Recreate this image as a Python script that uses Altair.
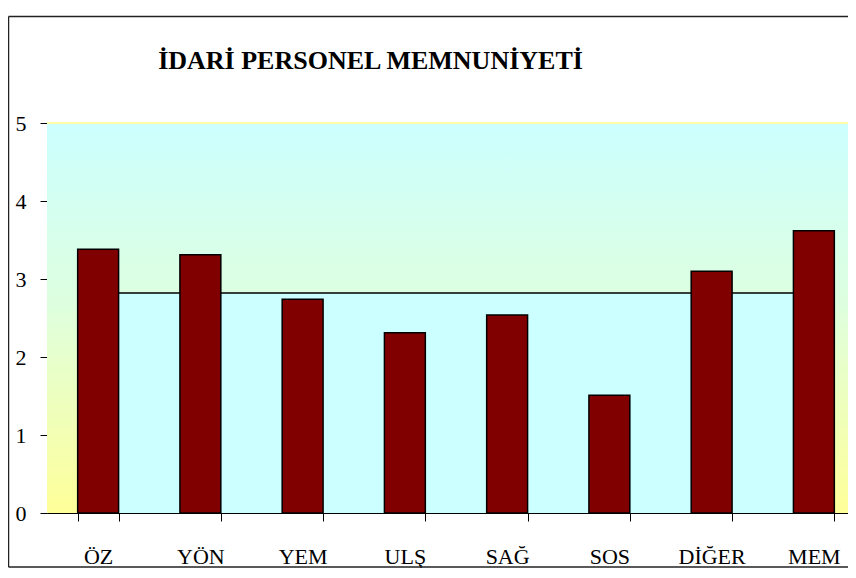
import altair as alt
import pandas as pd

# ---- data ----
categories = ["ÖZ", "YÖN", "YEM", "ULŞ", "SAĞ", "SOS", "DİĞER", "MEM"]
scores = [3.38, 3.31, 2.74, 2.31, 2.54, 1.51, 3.10, 3.62]
average = [2.82, 2.82, 2.82, 2.82, 2.82, 2.82, 2.82, 2.82]
y_ticks = [0, 1, 2, 3, 4, 5]
title_text = "İDARİ PERSONEL MEMNUNİYETİ"

df = pd.DataFrame({"cat": categories, "score": scores, "avg": average})

W, H = 801, 390
FONT = "Times New Roman, Liberation Serif, DejaVu Serif, serif"

x_enc = alt.X(
    "cat:N",
    sort=categories,
    scale=alt.Scale(range=[0, 818], paddingInner=0.6, paddingOuter=0.3),
    axis=alt.Axis(
        title=None,
        labelAngle=0,
        labelFont=FONT,
        labelFontSize=22,
        labelColor="black",
        labelPadding=25,
        tickBand="extent",
        tickSize=8,
        tickColor="black",
        domainColor="black",
        domainWidth=1,
        grid=False,
    ),
)
y_scale = alt.Scale(domain=[0, 5], nice=False)
y_axis = alt.Axis(
    title=None,
    values=y_ticks,
    labelFont=FONT,
    labelFontSize=22,
    labelColor="black",
    labelPadding=14,
    tickSize=7,
    tickColor="black",
    domainColor="black",
    domainWidth=1,
    grid=False,
)

one = pd.DataFrame({"a": [0]})

bg = alt.Chart(one).mark_rect(
    color=alt.Gradient(
        gradient="linear",
        stops=[
            alt.GradientStop(color="#CCFFFF", offset=0),
            alt.GradientStop(color="#DDFFE0", offset=0.45),
            alt.GradientStop(color="#FFFF99", offset=1),
        ],
        x1=0, x2=0, y1=0, y2=1,
    )
).encode(x=alt.value(0), x2=alt.value(W), y=alt.value(0), y2=alt.value(H))

top_edge = alt.Chart(one).mark_rule(color="#FFFFA8", strokeWidth=2).encode(
    x=alt.value(0), x2=alt.value(W), y=alt.value(0)
)

area = alt.Chart(df).mark_area(color="#CCFFFF", opacity=1).encode(
    x=x_enc, y=alt.Y("avg:Q", scale=y_scale, axis=y_axis)
)
line = alt.Chart(df).mark_line(color="black", strokeWidth=1.5).encode(
    x=x_enc, y=alt.Y("avg:Q", scale=y_scale, axis=y_axis)
)
bars = alt.Chart(df).mark_bar(color="#800000", stroke="black", strokeWidth=1.5).encode(
    x=x_enc, y=alt.Y("score:Q", scale=y_scale, axis=y_axis)
)

title = alt.Chart(one).mark_text(
    text=title_text, font=FONT, fontSize=26, fontWeight="bold",
    color="black", align="center", baseline="alphabetic"
).encode(x=alt.value(323.5), y=alt.value(-54))

BOTTOM = 444
border_left = alt.Chart(one).mark_rule(color="#222222", strokeWidth=1.5).encode(
    x=alt.value(-38.5), y=alt.value(-106.5), y2=alt.value(BOTTOM)
)
border_top = alt.Chart(one).mark_rule(color="#222222", strokeWidth=1.5).encode(
    x=alt.value(-38.5), x2=alt.value(W + 10), y=alt.value(-106.5)
)
border_bottom = alt.Chart(one).mark_rule(color="#222222", strokeWidth=1.5).encode(
    x=alt.value(-38.5), x2=alt.value(W + 10), y=alt.value(BOTTOM)
)

chart = alt.layer(
    bg, top_edge, area, line, bars, title, border_left, border_top, border_bottom
).properties(
    width=W,
    height=H,
    autosize=alt.AutoSizeParams(type="none"),
    padding={"left": 39, "top": 115, "right": 0, "bottom": 55},
).configure_view(stroke=None).configure(background="white")

chart.save("out.html", embed_options={"renderer": "svg", "actions": False})
